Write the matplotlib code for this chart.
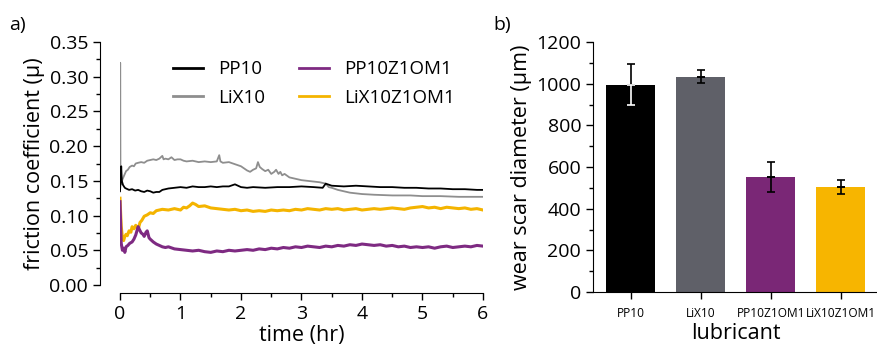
import matplotlib
matplotlib.use("Agg")
import matplotlib.pyplot as plt
from matplotlib.ticker import MultipleLocator, FormatStrFormatter

plt.rcParams['font.family'] = ['Open Sans', 'DejaVu Sans']

# a) friction coefficient vs time
t_pp10 = [0.0, 0.01, 0.02, 0.03, 0.05, 0.08, 0.10, 0.15, 0.20, 0.25,
          0.30, 0.35, 0.40, 0.45, 0.50, 0.55, 0.60, 0.65, 0.70, 0.80,
          0.90, 1.00, 1.10, 1.20, 1.30, 1.40, 1.50, 1.60, 1.70, 1.80,
          1.90, 2.00, 2.10, 2.20, 2.40, 2.60, 2.80, 3.00, 3.20, 3.35,
          3.40, 3.50, 3.70, 3.90, 4.10, 4.30, 4.50, 4.70, 4.90, 5.10,
          5.30, 5.50, 5.70, 5.90, 6.00]
mu_pp10 = [0.135, 0.150, 0.171, 0.150, 0.144, 0.140, 0.139, 0.137, 0.138, 0.136,
           0.137, 0.135, 0.134, 0.136, 0.135, 0.133, 0.134, 0.134, 0.137, 0.139,
           0.140, 0.141, 0.140, 0.142, 0.141, 0.141, 0.142, 0.141, 0.142, 0.142,
           0.145, 0.141, 0.140, 0.141, 0.140, 0.141, 0.141, 0.142, 0.141, 0.140,
           0.146, 0.143, 0.142, 0.143, 0.142, 0.141, 0.141, 0.140, 0.140, 0.139,
           0.139, 0.138, 0.138, 0.137, 0.137]

t_lix10 = [0.0, 0.003, 0.008, 0.02, 0.04, 0.06, 0.08, 0.10, 0.13, 0.16,
           0.20, 0.23, 0.26, 0.30, 0.35, 0.40, 0.45, 0.50, 0.55, 0.60,
           0.65, 0.70, 0.72, 0.75, 0.80, 0.85, 0.90, 0.95, 1.00, 1.05,
           1.10, 1.20, 1.30, 1.40, 1.50, 1.60, 1.64, 1.66, 1.70, 1.80,
           1.90, 2.00, 2.05, 2.10, 2.15, 2.20, 2.25, 2.28, 2.31, 2.35,
           2.40, 2.45, 2.50, 2.55, 2.58, 2.62, 2.65, 2.68, 2.72, 2.80,
           2.90, 3.00, 3.10, 3.20, 3.30, 3.35, 3.40, 3.45, 3.50, 3.60,
           3.70, 3.80, 3.90, 4.00, 4.20, 4.50, 4.80, 5.00, 5.30, 5.60,
           6.00]
mu_lix10 = [0.140, 0.320, 0.150, 0.145, 0.152, 0.156, 0.160, 0.164, 0.166, 0.170,
            0.172, 0.171, 0.175, 0.176, 0.177, 0.176, 0.179, 0.180, 0.181, 0.180,
            0.182, 0.186, 0.181, 0.182, 0.181, 0.184, 0.180, 0.181, 0.181, 0.179,
            0.178, 0.179, 0.177, 0.178, 0.177, 0.178, 0.187, 0.178, 0.176, 0.177,
            0.174, 0.171, 0.168, 0.165, 0.163, 0.166, 0.168, 0.177, 0.170, 0.167,
            0.164, 0.166, 0.160, 0.163, 0.166, 0.160, 0.163, 0.158, 0.160, 0.155,
            0.153, 0.151, 0.150, 0.149, 0.148, 0.147, 0.146, 0.141, 0.140, 0.137,
            0.135, 0.133, 0.132, 0.131, 0.130, 0.129, 0.129, 0.128, 0.128, 0.127,
            0.127]

t_lixz = [0.0, 0.01, 0.02, 0.04, 0.06, 0.08, 0.10, 0.12, 0.15, 0.18,
          0.20, 0.23, 0.26, 0.30, 0.33, 0.36, 0.40, 0.45, 0.50, 0.55,
          0.60, 0.70, 0.80, 0.90, 1.00, 1.05, 1.10, 1.15, 1.20, 1.25,
          1.30, 1.40, 1.50, 1.60, 1.70, 1.80, 1.90, 2.00, 2.10, 2.20,
          2.30, 2.40, 2.50, 2.60, 2.70, 2.80, 2.90, 3.00, 3.10, 3.20,
          3.30, 3.40, 3.50, 3.60, 3.70, 3.80, 3.90, 4.00, 4.10, 4.20,
          4.30, 4.40, 4.50, 4.60, 4.70, 4.80, 4.90, 5.00, 5.10, 5.20,
          5.30, 5.40, 5.50, 5.60, 5.70, 5.80, 5.90, 6.00]
mu_lixz = [0.125, 0.105, 0.085, 0.068, 0.064, 0.070, 0.073, 0.071, 0.078, 0.076,
           0.084, 0.081, 0.086, 0.080, 0.090, 0.093, 0.099, 0.101, 0.104, 0.103,
           0.107, 0.109, 0.108, 0.110, 0.108, 0.112, 0.111, 0.114, 0.118, 0.116,
           0.113, 0.114, 0.111, 0.110, 0.109, 0.108, 0.109, 0.107, 0.108, 0.106,
           0.107, 0.106, 0.108, 0.107, 0.108, 0.107, 0.109, 0.108, 0.110, 0.109,
           0.108, 0.110, 0.109, 0.110, 0.108, 0.109, 0.110, 0.108, 0.109, 0.110,
           0.109, 0.110, 0.111, 0.110, 0.109, 0.111, 0.112, 0.113, 0.111, 0.112,
           0.110, 0.112, 0.111, 0.110, 0.111, 0.109, 0.110, 0.108]

t_ppz = [0.0, 0.02, 0.04, 0.06, 0.08, 0.10, 0.13, 0.16, 0.20, 0.23,
         0.26, 0.28, 0.30, 0.32, 0.35, 0.38, 0.40, 0.43, 0.45, 0.48,
         0.50, 0.55, 0.60, 0.65, 0.70, 0.75, 0.80, 0.90, 1.00, 1.10,
         1.20, 1.30, 1.40, 1.50, 1.60, 1.70, 1.80, 1.90, 2.00, 2.10,
         2.20, 2.30, 2.40, 2.50, 2.60, 2.70, 2.80, 2.90, 3.00, 3.10,
         3.20, 3.30, 3.40, 3.50, 3.60, 3.70, 3.80, 3.90, 4.00, 4.10,
         4.20, 4.30, 4.40, 4.50, 4.60, 4.70, 4.80, 4.90, 5.00, 5.10,
         5.20, 5.30, 5.40, 5.50, 5.60, 5.70, 5.80, 5.90, 6.00]
mu_ppz = [0.120, 0.060, 0.050, 0.053, 0.047, 0.055, 0.057, 0.060, 0.062, 0.066,
          0.072, 0.078, 0.084, 0.080, 0.075, 0.073, 0.070, 0.076, 0.078, 0.068,
          0.066, 0.062, 0.059, 0.057, 0.055, 0.054, 0.055, 0.052, 0.051, 0.050,
          0.049, 0.050, 0.048, 0.047, 0.049, 0.048, 0.050, 0.049, 0.050, 0.051,
          0.050, 0.052, 0.051, 0.053, 0.052, 0.054, 0.053, 0.055, 0.054, 0.056,
          0.055, 0.054, 0.056, 0.055, 0.057, 0.056, 0.058, 0.057, 0.059, 0.058,
          0.057, 0.058, 0.056, 0.057, 0.055, 0.056, 0.054, 0.055, 0.054, 0.055,
          0.053, 0.055, 0.056, 0.054, 0.055, 0.056, 0.055, 0.057, 0.056]

# b) wear scar diameter
lubricants = ["PP10", "LiX10", "PP10Z1OM1", "LiX10Z1OM1"]
wsd = [995, 1033, 552, 504]
wsd_err = [98, 32, 72, 34]
bar_colors = ["#000000", "#5f6068", "#7a2776", "#f7b500"]

c_pp10 = "#000000"
c_lix10 = "#8e8e8e"
c_ppz = "#7e2a82"
c_lixz = "#f4b400"

px = 72 / 100  # points per pixel

fig = plt.figure(figsize=(8.78, 3.45), dpi=100)

# ---- panel a
ax1 = fig.add_axes([120 / 878, 60 / 345, 363 / 878, 243 / 345])
ax1.plot(t_lix10, mu_lix10, color=c_lix10, lw=1.3, label="LiX10")
ax1.plot(t_pp10, mu_pp10, color=c_pp10, lw=1.3, label="PP10")
ax1.plot(t_lixz, mu_lixz, color=c_lixz, lw=2.2, label="LiX10Z1OM1")
ax1.plot(t_ppz, mu_ppz, color=c_ppz, lw=2.2, label="PP10Z1OM1")

ax1.set_xlim(0, 6)
ax1.set_ylim(0, 0.35)
for s in ["top", "right"]:
    ax1.spines[s].set_visible(False)
ax1.spines["left"].set_position(("outward", 20 * px))
ax1.spines["bottom"].set_position(("outward", 8 * px))
ax1.yaxis.set_major_locator(MultipleLocator(0.05))
ax1.yaxis.set_minor_locator(MultipleLocator(0.025))
ax1.yaxis.set_major_formatter(FormatStrFormatter("%.2f"))
ax1.xaxis.set_major_locator(MultipleLocator(1))
ax1.xaxis.set_minor_locator(MultipleLocator(0.5))
ax1.tick_params(which="major", direction="out", length=5, width=1, labelsize=14)
ax1.tick_params(which="minor", direction="out", length=3, width=1)
ax1.set_xlabel("time (hr)", fontsize=15.5, labelpad=1.5)
ax1.set_ylabel("friction coefficient (\u03bc)", fontsize=15.5, labelpad=3)

h = dict((l.get_label(), l) for l in ax1.get_lines())
order = ["PP10", "LiX10", "PP10Z1OM1", "LiX10Z1OM1"]
leg_lines = []
for name in order:
    ln, = ax1.plot([], [], color=h[name].get_color(), lw=2)
    leg_lines.append(ln)
ax1.legend(leg_lines, order, ncol=2, frameon=False, fontsize=13.5,
           loc="upper left", bbox_to_anchor=(0.146, 0.925),
           borderpad=0, borderaxespad=0,
           handlelength=1.6, columnspacing=1.8, labelspacing=0.55,
           handletextpad=0.8)

# ---- panel b
ax2 = fig.add_axes([593 / 878, 53 / 345, 285 / 878, 250 / 345])
x = list(range(len(lubricants)))
ax2.bar(x, wsd, width=0.7, color=bar_colors)
for i in x:
    low_col = "white" if i == 0 else "black"
    ax2.errorbar(i, wsd[i], yerr=[[0], [wsd_err[i]]], fmt="none",
                 ecolor="black", elinewidth=1.2, capsize=3, capthick=1.2)
    ax2.errorbar(i, wsd[i], yerr=[[wsd_err[i]], [0]], fmt="none",
                 ecolor=low_col, elinewidth=1.2, capsize=3, capthick=1.2)

ax2.set_xlim(-0.54, 3.53)
ax2.set_ylim(0, 1200)
for s in ["top", "right"]:
    ax2.spines[s].set_visible(False)
ax2.set_xticks(x)
ax2.set_xticklabels(lubricants, fontsize=8.6)
ax2.yaxis.set_major_locator(MultipleLocator(200))
ax2.yaxis.set_minor_locator(MultipleLocator(100))
ax2.tick_params(axis="y", which="major", direction="out", length=5, width=1, labelsize=14)
ax2.tick_params(axis="y", which="minor", direction="out", length=3, width=1)
ax2.tick_params(axis="x", which="major", direction="out", length=5, width=1, pad=6)
ax2.set_xlabel("lubricant", fontsize=15.5, labelpad=2)
ax2.set_ylabel("wear scar diameter (\u03bcm)", fontsize=15.5, labelpad=3)

fig.text(9 / 878, 1 - 30 / 345, "a)", fontsize=14)
fig.text(493 / 878, 1 - 30 / 345, "b)", fontsize=14)

fig.savefig("out.png", dpi=100)
